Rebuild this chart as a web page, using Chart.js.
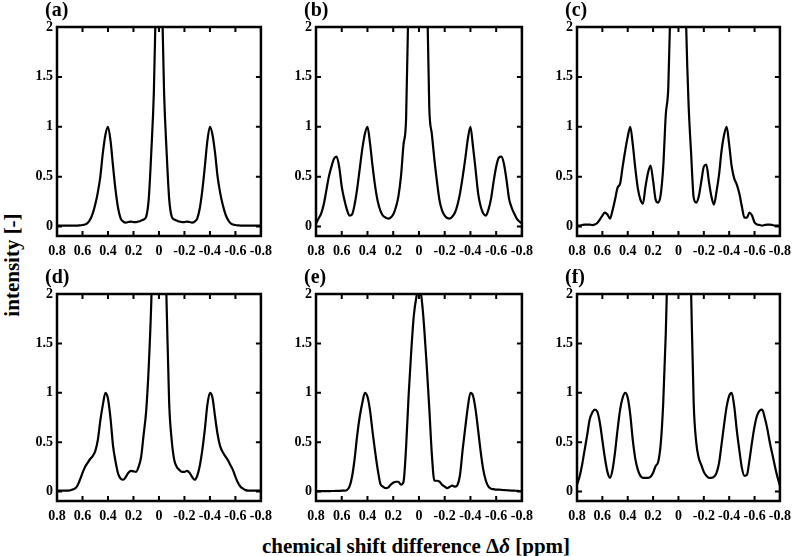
<!DOCTYPE html>
<html>
<head>
<meta charset="utf-8">
<script src="https://cdn.jsdelivr.net/npm/chart.js@4.4.0/dist/chart.umd.min.js"></script>
<style>
    body { margin: 0; background: #fff; width: 796px; height: 556px; position: relative; overflow: hidden;
           font-family: 'Liberation Serif', 'Times New Roman', serif; font-weight: bold; color: #000; }
    canvas { position: absolute; }
    #ytitle { position: absolute; left: 12px; top: 265px; transform: translate(-50%, -50%) rotate(-90deg);
              font-size: 21px; white-space: nowrap; }
    #xtitle { position: absolute; left: 416px; top: 546px; transform: translate(-50%, -50%);
              font-size: 21px; white-space: nowrap; }
</style>
</head>
<body>
<div id="ytitle">intensity [-]</div>
<div id="xtitle">chemical shift difference &Delta;<i>&delta;</i> [ppm]</div>
<script>
// chemical shift axis, 0.8 -> -0.8 ppm
const shifts = [
    0.80, 0.78, 0.76, 0.74, 0.72, 0.70, 0.68, 0.66, 0.64, 0.62,
    0.60, 0.58, 0.56, 0.54, 0.52, 0.50, 0.48, 0.46, 0.44, 0.42,
    0.40, 0.38, 0.36, 0.34, 0.32, 0.30, 0.28, 0.26, 0.24, 0.22,
    0.20, 0.18, 0.16, 0.14, 0.12, 0.10, 0.08, 0.06, 0.04, 0.02,
    0.00,
    -0.02, -0.04, -0.06, -0.08, -0.10, -0.12, -0.14, -0.16, -0.18, -0.20,
    -0.22, -0.24, -0.26, -0.28, -0.30, -0.32, -0.34, -0.36, -0.38, -0.40,
    -0.42, -0.44, -0.46, -0.48, -0.50, -0.52, -0.54, -0.56, -0.58, -0.60,
    -0.62, -0.64, -0.66, -0.68, -0.70, -0.72, -0.74, -0.76, -0.78, -0.80
];

const xTickValues = [0.8, 0.6, 0.4, 0.2, 0, -0.2, -0.4, -0.6, -0.8];
const yTickValues = [0, 0.5, 1, 1.5, 2];
const panelNames = ['(a)', '(b)', '(c)', '(d)', '(e)', '(f)'];

const spectrumA = [
    0.01, 0.01, 0.01, 0.01, 0.01, 0.01, 0.01, 0.01, 0.01, 0.012,
    0.015, 0.02, 0.035, 0.07, 0.13, 0.22, 0.34, 0.5, 0.74, 0.92,
    1.0, 0.86, 0.6, 0.36, 0.18, 0.08, 0.05, 0.04, 0.045, 0.05,
    0.045, 0.045, 0.05, 0.06, 0.07, 0.1, 0.28, 0.75, 1.35, 2.5,
    4.0,
    2.5, 1.35, 0.75, 0.28, 0.1, 0.07, 0.06, 0.05, 0.045, 0.045,
    0.05, 0.045, 0.04, 0.05, 0.08, 0.18, 0.36, 0.6, 0.86, 1.0,
    0.92, 0.74, 0.5, 0.34, 0.22, 0.13, 0.07, 0.035, 0.02, 0.015,
    0.012, 0.01, 0.01, 0.01, 0.01, 0.01, 0.01, 0.01, 0.01, 0.01
];

const spectrumB = [
    0.03, 0.08, 0.13, 0.22, 0.36, 0.5, 0.6, 0.68, 0.70, 0.6,
    0.4, 0.27, 0.17, 0.11, 0.12, 0.22, 0.38, 0.58, 0.78, 0.93,
    1.0, 0.83, 0.6, 0.4, 0.25, 0.16, 0.11, 0.09, 0.08, 0.09,
    0.12, 0.19, 0.3, 0.5, 0.82, 1.08, 2.4, 3.6, 4, 4,
    4,
    4, 3.8, 2.6, 1.2, 0.93, 0.67, 0.45, 0.26, 0.16, 0.11,
    0.085, 0.08, 0.1, 0.14, 0.22, 0.34, 0.5, 0.68, 0.88, 1.0,
    0.8, 0.57, 0.33, 0.2, 0.13, 0.11, 0.17, 0.28, 0.45, 0.6,
    0.69, 0.70, 0.63, 0.47, 0.28, 0.19, 0.13, 0.08, 0.05, 0.03
];

const spectrumC = [
    0.01, 0.01, 0.015, 0.02, 0.02, 0.02, 0.015, 0.02, 0.035, 0.07,
    0.11, 0.14, 0.12, 0.08, 0.16, 0.27, 0.39, 0.43, 0.6, 0.76,
    0.9, 1.0, 0.82, 0.58, 0.38, 0.27, 0.23, 0.4, 0.54, 0.61,
    0.46, 0.27, 0.24, 0.32, 0.6, 1.12, 1.4, 2.4, 3.5, 4,
    4,
    4, 3.5, 2.05, 1.22, 0.73, 0.29, 0.24, 0.3, 0.45, 0.6,
    0.62, 0.45, 0.3, 0.22, 0.35, 0.52, 0.76, 0.92, 1.0, 0.82,
    0.6, 0.48, 0.42, 0.33, 0.2, 0.09, 0.09, 0.14, 0.11, 0.04,
    0.02, 0.015, 0.01, 0.015, 0.02, 0.02, 0.015, 0.01, 0.01, 0.01
];

const spectrumD = [
    0.01, 0.01, 0.01, 0.01, 0.01, 0.012, 0.02, 0.03, 0.06, 0.12,
    0.19, 0.25, 0.29, 0.33, 0.36, 0.41, 0.52, 0.72, 0.88, 1.0,
    0.94, 0.74, 0.46, 0.3, 0.18, 0.13, 0.12, 0.15, 0.19, 0.21,
    0.205, 0.2, 0.25, 0.35, 0.58, 0.82, 1.27, 1.93, 3.0, 4,
    4,
    4, 3.0, 1.9, 0.9, 0.52, 0.32, 0.25, 0.22, 0.2, 0.2,
    0.21, 0.19, 0.15, 0.12, 0.16, 0.26, 0.42, 0.63, 0.88, 1.0,
    0.95, 0.76, 0.58, 0.46, 0.4, 0.36, 0.32, 0.27, 0.22, 0.15,
    0.09, 0.05, 0.03, 0.015, 0.01, 0.01, 0.01, 0.01, 0.01, 0.01
];

const spectrumE = [
    0.005, 0.005, 0.005, 0.005, 0.005, 0.005, 0.006, 0.006, 0.007, 0.008,
    0.009, 0.01, 0.015, 0.05, 0.15, 0.33, 0.57, 0.76, 0.9, 1.0,
    0.96, 0.82, 0.6, 0.4, 0.22, 0.08, 0.05, 0.035, 0.04, 0.07,
    0.09, 0.1, 0.1, 0.07, 0.1, 0.45, 0.98, 1.42, 1.78, 1.97,
    2.06,
    1.96, 1.67, 1.28, 0.85, 0.38, 0.11, 0.11, 0.1, 0.07, 0.05,
    0.035, 0.05, 0.06, 0.05, 0.07, 0.18, 0.43, 0.65, 0.86, 1.0,
    0.97, 0.83, 0.62, 0.4, 0.22, 0.11, 0.05, 0.03, 0.025, 0.02,
    0.02, 0.018, 0.015, 0.014, 0.012, 0.01, 0.01, 0.008, 0.006, 0.005
];

const spectrumF = [
    0.07, 0.15, 0.27, 0.42, 0.57, 0.73, 0.8, 0.83, 0.81, 0.7,
    0.52, 0.34, 0.2, 0.14, 0.22, 0.4, 0.63, 0.83, 0.95, 1.0,
    0.95, 0.78, 0.52, 0.33, 0.22, 0.16, 0.14, 0.14, 0.14, 0.15,
    0.19, 0.26, 0.3, 0.48, 0.9, 1.6, 2.6, 4, 4, 4,
    4,
    4, 4, 4, 3.2, 2.0, 0.9, 0.5, 0.34, 0.27, 0.2,
    0.16, 0.14, 0.14, 0.15, 0.19, 0.29, 0.48, 0.68, 0.86, 0.97,
    1.0, 0.86, 0.62, 0.42, 0.24, 0.16, 0.17, 0.32, 0.5, 0.66,
    0.77, 0.82, 0.83, 0.75, 0.64, 0.5, 0.38, 0.26, 0.15, 0.06
];

const spectra = [spectrumA, spectrumB, spectrumC, spectrumD, spectrumE, spectrumF];

// plot-area placement on the page
const plotLeft = [57, 316, 577];
const plotRight = [265, 526, 784];
const plotTop = [27, 294];
const plotBottom = [236, 501];
const padLeft = 45, padTop = 25, padRight = 14, padBottom = 25;

const serif = "'Liberation Serif', 'Times New Roman', serif";
Chart.defaults.font.family = serif;
Chart.defaults.color = '#000';

// box around the plot, inward ticks on all four sides, panel letter
const framePlugin = {
    id: 'frame',
    afterDatasetsDraw(chart, args, opts) {
        const ctx = chart.ctx;
        const a = chart.chartArea;
        const x = chart.scales.x;
        const y = chart.scales.y;
        ctx.save();
        ctx.strokeStyle = '#000';
        ctx.lineWidth = 2;
        ctx.beginPath();
        x.ticks.forEach(function (t) {
            let px = x.getPixelForValue(t.value);
            ctx.moveTo(px, a.bottom);
            ctx.lineTo(px, a.bottom - 5);
            ctx.moveTo(px, a.top);
            ctx.lineTo(px, a.top + 5);
        });
        y.ticks.forEach(function (t) {
            let py = y.getPixelForValue(t.value);
            ctx.moveTo(a.left, py);
            ctx.lineTo(a.left + 5, py);
            ctx.moveTo(a.right, py);
            ctx.lineTo(a.right - 5, py);
        });
        ctx.stroke();
        ctx.lineWidth = 2.5;
        ctx.strokeRect(a.left, a.top, a.right - a.left, a.bottom - a.top);
        ctx.fillStyle = '#000';
        ctx.font = 'bold 20px ' + serif;
        ctx.textBaseline = 'middle';
        ctx.textAlign = 'left';
        ctx.fillText(opts.label, a.left - 12, a.top - 16);
        ctx.restore();
    }
};

for (let i = 0; i < spectra.length; i++) {
    let col = i % 3;
    let row = Math.floor(i / 3);

    let canvas = document.createElement('canvas');
    canvas.width = plotRight[col] - plotLeft[col] + padLeft + padRight;
    canvas.height = plotBottom[row] - plotTop[row] + padTop + padBottom;
    canvas.style.left = (plotLeft[col] - padLeft) + 'px';
    canvas.style.top = (plotTop[row] - padTop) + 'px';
    document.body.appendChild(canvas);

    let points = shifts.map(function (s, k) {
        return { x: s, y: spectra[i][k] };
    });

    new Chart(canvas.getContext('2d'), {
        type: 'line',
        data: {
            datasets: [{
                label: panelNames[i],
                data: points,
                borderColor: '#000',
                borderWidth: 2.2,
                pointRadius: 0,
                fill: false,
                cubicInterpolationMode: 'monotone'
            }]
        },
        options: {
            responsive: false,
            animation: false,
            devicePixelRatio: 1,
            layout: { padding: { left: 0, top: padTop, right: padRight, bottom: 0 } },
            plugins: {
                legend: { display: false },
                tooltip: { enabled: false },
                frame: { label: panelNames[i] }
            },
            scales: {
                x: {
                    type: 'linear',
                    reverse: true,
                    min: -0.8,
                    max: 0.8,
                    grid: { display: false, drawTicks: false },
                    border: { display: false },
                    afterBuildTicks: function (scale) {
                        scale.ticks = xTickValues.map(function (v) { return { value: v }; });
                    },
                    afterFit: function (scale) { scale.height = padBottom; },
                    ticks: {
                        autoSkip: false,
                        maxRotation: 0,
                        padding: 7,
                        color: '#000',
                        font: { size: 14, weight: 'bold' },
                        callback: function (v) { return String(v); }
                    }
                },
                y: {
                    type: 'linear',
                    min: -0.095,
                    max: 2,
                    grid: { display: false, drawTicks: false },
                    border: { display: false },
                    afterBuildTicks: function (scale) {
                        scale.ticks = yTickValues.map(function (v) { return { value: v }; });
                    },
                    afterFit: function (scale) { scale.width = padLeft; },
                    ticks: {
                        padding: 4,
                        color: '#000',
                        font: { size: 14, weight: 'bold' },
                        callback: function (v) { return String(v); }
                    }
                }
            }
        },
        plugins: [framePlugin]
    });
}
</script>
</body>
</html>
